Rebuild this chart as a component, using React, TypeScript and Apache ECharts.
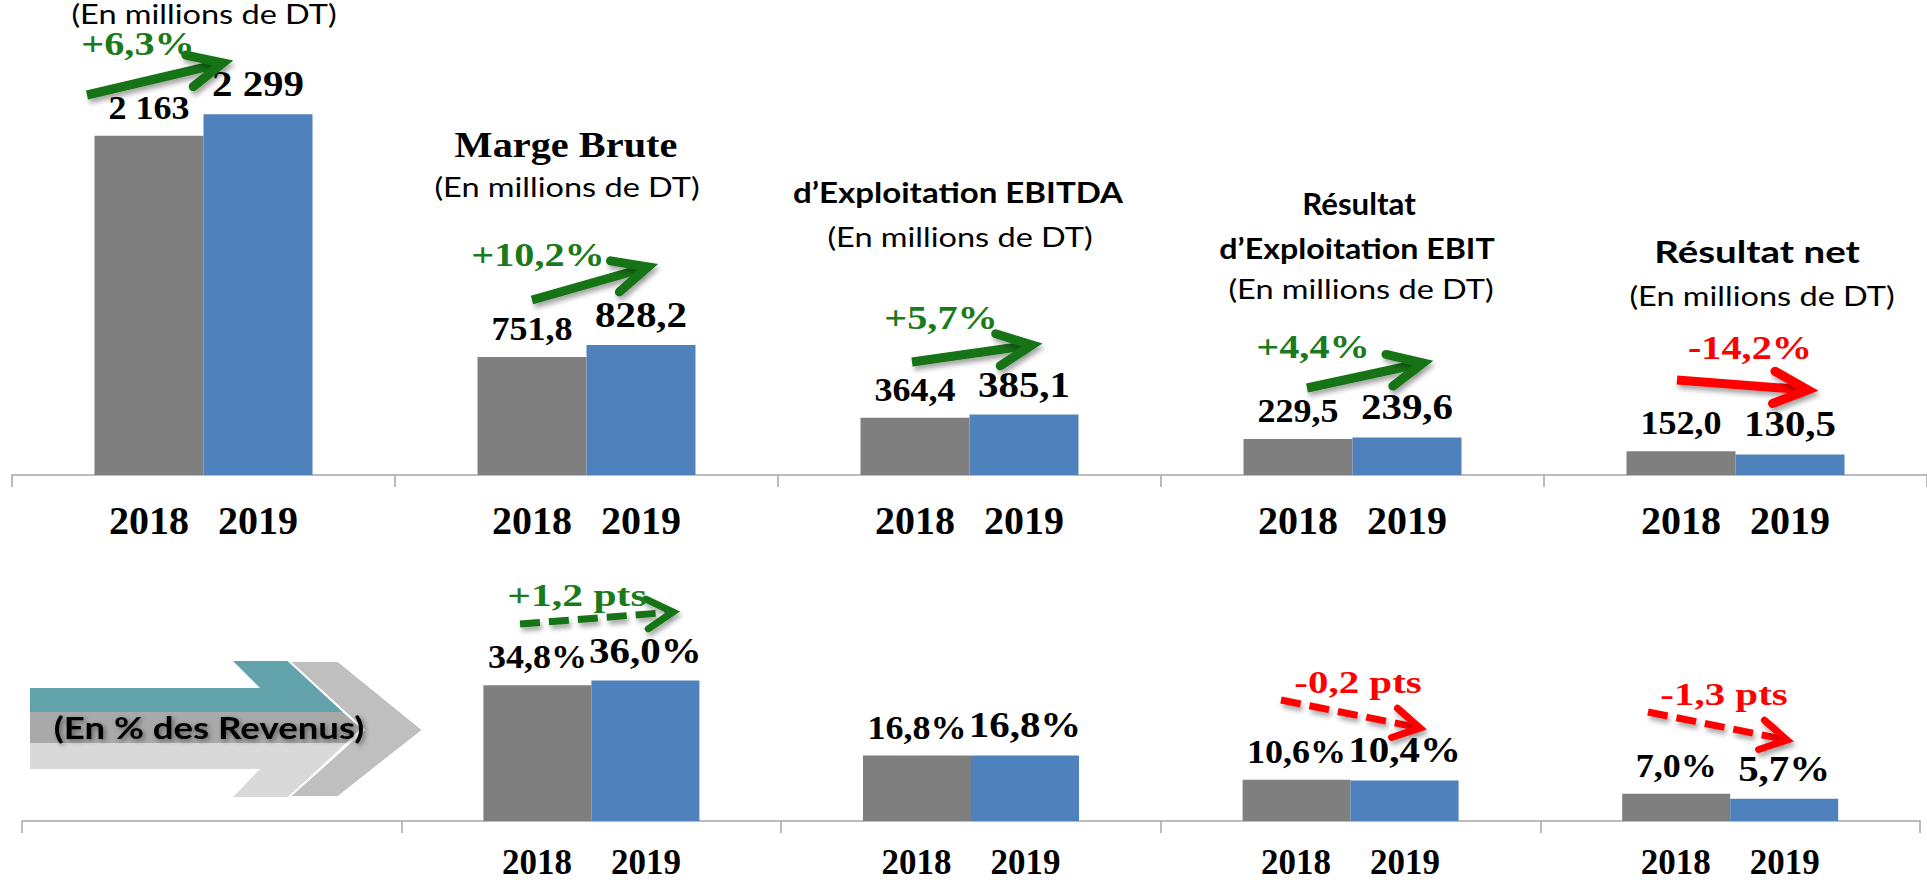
import React, { useEffect, useRef } from 'react';
import * as echarts from 'echarts';

const categories = ["Chiffre d'affaires", 'Marge Brute', 'EBITDA', 'EBIT', 'Résultat net'];
const years = ['2018', '2019'];
const values2018 = [2163, 751.8, 364.4, 229.5, 152.0];
const values2019 = [2299, 828.2, 385.1, 239.6, 130.5];
const pct2018: (number | null)[] = [null, 34.8, 16.8, 10.6, 7.0];
const pct2019: (number | null)[] = [null, 36.0, 16.8, 10.4, 5.7];
const growthLabels = ['+6,3%', '+10,2%', '+5,7%', '+4,4%', '-14,2%'];
const marginLabels = ['', '+1,2 pts', '', '-0,2 pts', '-1,3 pts'];
const revenueNote = '(En % des Revenus)';
const subTitle = '(En millions de DT)';

const GRAY = '#7f7f7f';
const BLUE = '#4f81bd';
const GREEN = '#137313';
const GREEN_TXT = '#1b7a1b';
const RED = '#ff0000';
const AXIS = '#a6a6a6';
const SERIF = '"Liberation Serif", "Times New Roman", serif';
const SANS = 'Lato, "Open Sans", sans-serif';

const fmtVal = (v: number) => {
  if (v >= 1000) {
    const s = Math.round(v).toString();
    return s.slice(0, s.length - 3) + ' ' + s.slice(-3);
  }
  return v.toFixed(1).replace('.', ',');
};
const fmtPct = (v: number) => v.toFixed(1).replace('.', ',') + '%';

function txt(text: string, x: number, y: number, font: string, fill: string, scaleX = 1, extra: any = {}) {
  return {
    type: 'text',
    x,
    y,
    scaleX,
    silent: true,
    z: 10,
    style: {
      text,
      font,
      fill,
      align: 'center',
      verticalAlign: 'middle',
      textAlign: 'center',
      textVerticalAlign: 'middle',
      ...extra,
    },
  };
}

function arrow(x1: number, y1: number, x2: number, y2: number, color: string, dashed: boolean, width: number, headLen: number, headAng: number) {
  const th = Math.atan2(y2 - y1, x2 - x1);
  const b1 = [x2 - headLen * Math.cos(th - headAng), y2 - headLen * Math.sin(th - headAng)];
  const b2 = [x2 - headLen * Math.cos(th + headAng), y2 - headLen * Math.sin(th + headAng)];
  const ex = x2 - (width * 0.8) * Math.cos(th);
  const ey = y2 - (width * 0.8) * Math.sin(th);
  const shadow = { shadowBlur: 5, shadowColor: 'rgba(0,0,0,0.35)', shadowOffsetX: 2, shadowOffsetY: 4 };
  return [
    {
      type: 'line',
      silent: true,
      z: 9,
      shape: { x1, y1, x2: ex, y2: ey },
      style: { stroke: color, lineWidth: width, lineDash: dashed ? [20, 9] : null, lineCap: 'butt', ...shadow },
    },
    {
      type: 'polyline',
      silent: true,
      z: 9,
      shape: { points: [b1, [x2, y2], b2] },
      style: { stroke: color, lineWidth: width, lineJoin: 'miter', lineCap: 'round', fill: null, ...shadow },
    },
  ];
}

function labelSeries(xi: number, v18: (number | null)[], v19: (number | null)[], fmt: (v: number) => string, halfBar: number) {
  const data: any[] = [];
  categories.forEach((c, i) => {
    if (v18[i] != null && v19[i] != null) data.push([c, v18[i], v19[i]]);
  });
  return {
    type: 'custom',
    xAxisIndex: xi,
    yAxisIndex: xi,
    silent: true,
    z: 5,
    data,
    encode: { x: 0, y: [1, 2] },
    renderItem: (params: any, api: any) => {
      const idx = api.value(0);
      const a = api.value(1);
      const b = api.value(2);
      const p1 = api.coord([idx, a]);
      const p2 = api.coord([idx, b]);
      return {
        type: 'group',
        children: [
          txt(fmt(a), p1[0] - halfBar, p1[1] - 28, `bold 34px ${SERIF}`, '#000', 1.06),
          txt(fmt(b), p2[0] + halfBar, p2[1] - 30, `bold 35px ${SERIF}`, '#000', 1.17),
        ],
      };
    },
  };
}

export default function App() {
  const ref = useRef<HTMLDivElement>(null);

  useEffect(() => {
    if (!ref.current) return;
    const chart = echarts.init(ref.current, null, { renderer: 'svg' });

    const yearRich = (size: number, lh: number) => ({
      a: { width: 109, align: 'center', fontSize: size, lineHeight: lh, fontFamily: SERIF, fontWeight: 'bold', color: '#000' },
      b: { width: 109, align: 'center', fontSize: size, lineHeight: lh, fontFamily: SERIF, fontWeight: 'bold', color: '#000' },
    });

    const titleSub = `26px ${SANS}`;

    const graphics: any[] = [
      txt(subTitle, 204, 14, titleSub, '#000', 1.25),
      txt(categories[1], 566, 145, `bold 36px ${SERIF}`, '#000', 1.12),
      txt(subTitle, 567, 187, titleSub, '#000', 1.25),
      txt('d’Exploitation EBITDA', 958, 192, `bold 29px ${SANS}`, '#000', 1.14),
      txt(subTitle, 960, 237, titleSub, '#000', 1.25),
      txt('Résultat', 1359, 204, `bold 30px ${SANS}`, '#000', 1.04),
      txt('d’Exploitation EBIT', 1357, 248, `bold 29px ${SANS}`, '#000', 1.11),
      txt(subTitle, 1361, 289, titleSub, '#000', 1.25),
      txt('Résultat net', 1757, 251, `bold 31px ${SANS}`, '#000', 1.24),
      txt(subTitle, 1762, 296, titleSub, '#000', 1.25),
      // growth labels
      txt(growthLabels[0], 138, 44, `bold 33px ${SERIF}`, GREEN_TXT, 1.22),
      txt(growthLabels[1], 538, 255, `bold 33px ${SERIF}`, GREEN_TXT, 1.22),
      txt(growthLabels[2], 941, 318, `bold 33px ${SERIF}`, GREEN_TXT, 1.22),
      txt(growthLabels[3], 1313, 347, `bold 33px ${SERIF}`, GREEN_TXT, 1.22),
      txt(growthLabels[4], 1750, 348, `bold 33px ${SERIF}`, RED, 1.22),
      txt(marginLabels[1], 577, 595, `bold 32px ${SERIF}`, GREEN_TXT, 1.3),
      txt(marginLabels[3], 1358, 682, `bold 32px ${SERIF}`, RED, 1.28),
      txt(marginLabels[4], 1724, 694, `bold 32px ${SERIF}`, RED, 1.28),
      ...arrow(87, 95, 223, 63, GREEN, false, 9, 38, 0.44),
      ...arrow(532, 300, 648, 267, GREEN, false, 9, 38, 0.44),
      ...arrow(912, 362, 1032, 345, GREEN, false, 9, 38, 0.44),
      ...arrow(1307, 388, 1423, 363, GREEN, false, 9, 38, 0.44),
      ...arrow(1677, 380, 1808, 390, RED, false, 9, 38, 0.44),
      ...arrow(520, 624, 673, 612, GREEN, true, 7, 30, 0.52),
      ...arrow(1281, 700, 1420, 728, RED, true, 7, 30, 0.52),
      ...arrow(1648, 712, 1787, 740, RED, true, 7, 30, 0.52),
      // revenue arrow shape
      {
        type: 'polygon', silent: true, z: 3,
        shape: { points: [[30, 688], [260, 688], [233, 661], [288, 661], [343, 712], [30, 712]] },
        style: { fill: '#62a3ab' },
      },
      {
        type: 'polygon', silent: true, z: 3,
        shape: { points: [[30, 712], [343, 712], [361, 728], [346, 743], [30, 743]] },
        style: { fill: '#a9a9a9' },
      },
      {
        type: 'polygon', silent: true, z: 3,
        shape: { points: [[30, 743], [346, 743], [289, 797], [233, 797], [260, 769], [30, 769]] },
        style: { fill: '#d9d9d9' },
      },
      {
        type: 'polygon', silent: true, z: 4,
        shape: { points: [[289, 661], [338, 661], [423, 730], [338, 797], [289, 797], [364, 730]] },
        style: { fill: '#bfbfbf', stroke: '#ffffff', lineWidth: 2 },
      },
      txt(revenueNote, 209, 727, `bold 30px ${SANS}`, '#000', 1.22, {
        textShadowBlur: 5, textShadowColor: 'rgba(0,0,0,0.45)', textShadowOffsetX: 2, textShadowOffsetY: 2,
        shadowBlur: 5, shadowColor: 'rgba(0,0,0,0.45)', shadowOffsetX: 2, shadowOffsetY: 2,
      }),
    ];

    const option: any = {
      animation: false,
      backgroundColor: '#ffffff',
      grid: [
        { left: 12, top: 0, width: 1919, height: 475 },
        { left: 22, top: 500, width: 1898, height: 321 },
      ],
      xAxis: [
        {
          type: 'category', gridIndex: 0, data: categories,
          axisLine: { lineStyle: { color: AXIS, width: 1.5 } },
          axisTick: { show: true, length: 12, lineStyle: { color: AXIS, width: 1.5 } },
          axisLabel: {
            interval: 0, margin: 27, verticalAlign: 'top',
            formatter: () => `{a|${years[0]}}{b|${years[1]}}`,
            rich: yearRich(40, 36),
          },
        },
        {
          type: 'category', gridIndex: 1, data: categories,
          axisLine: { lineStyle: { color: AXIS, width: 1.5 } },
          axisTick: { show: true, length: 12, lineStyle: { color: AXIS, width: 1.5 } },
          axisLabel: {
            interval: 0, margin: 27, verticalAlign: 'top',
            formatter: (_v: string, i: number) => (pct2018[i] == null ? '' : `{a|${years[0]}}{b|${years[1]}}`),
            rich: yearRich(35, 28),
          },
        },
      ],
      yAxis: [
        { type: 'value', gridIndex: 0, min: 0, max: 3028, show: false },
        { type: 'value', gridIndex: 1, min: 0, max: 82.3, show: false },
      ],
      series: [
        { type: 'bar', name: years[0], xAxisIndex: 0, yAxisIndex: 0, data: values2018, barWidth: 109, barGap: '0%', itemStyle: { color: GRAY } },
        { type: 'bar', name: years[1], xAxisIndex: 0, yAxisIndex: 0, data: values2019, barWidth: 109, barGap: '0%', itemStyle: { color: BLUE } },
        { type: 'bar', name: years[0] + ' %', xAxisIndex: 1, yAxisIndex: 1, data: pct2018, barWidth: 108, barGap: '0%', itemStyle: { color: GRAY } },
        { type: 'bar', name: years[1] + ' %', xAxisIndex: 1, yAxisIndex: 1, data: pct2019, barWidth: 108, barGap: '0%', itemStyle: { color: BLUE } },
        labelSeries(0, values2018, values2019, fmtVal, 54.5),
        labelSeries(1, pct2018, pct2019, fmtPct, 54),
      ],
      graphic: { elements: graphics },
    };

    chart.setOption(option);
    return () => chart.dispose();
  }, []);

  return (
    <div
      ref={ref}
      style={{ position: 'absolute', left: 0, top: 0, width: 1927, height: 883, background: '#fff' }}
    />
  );
}
